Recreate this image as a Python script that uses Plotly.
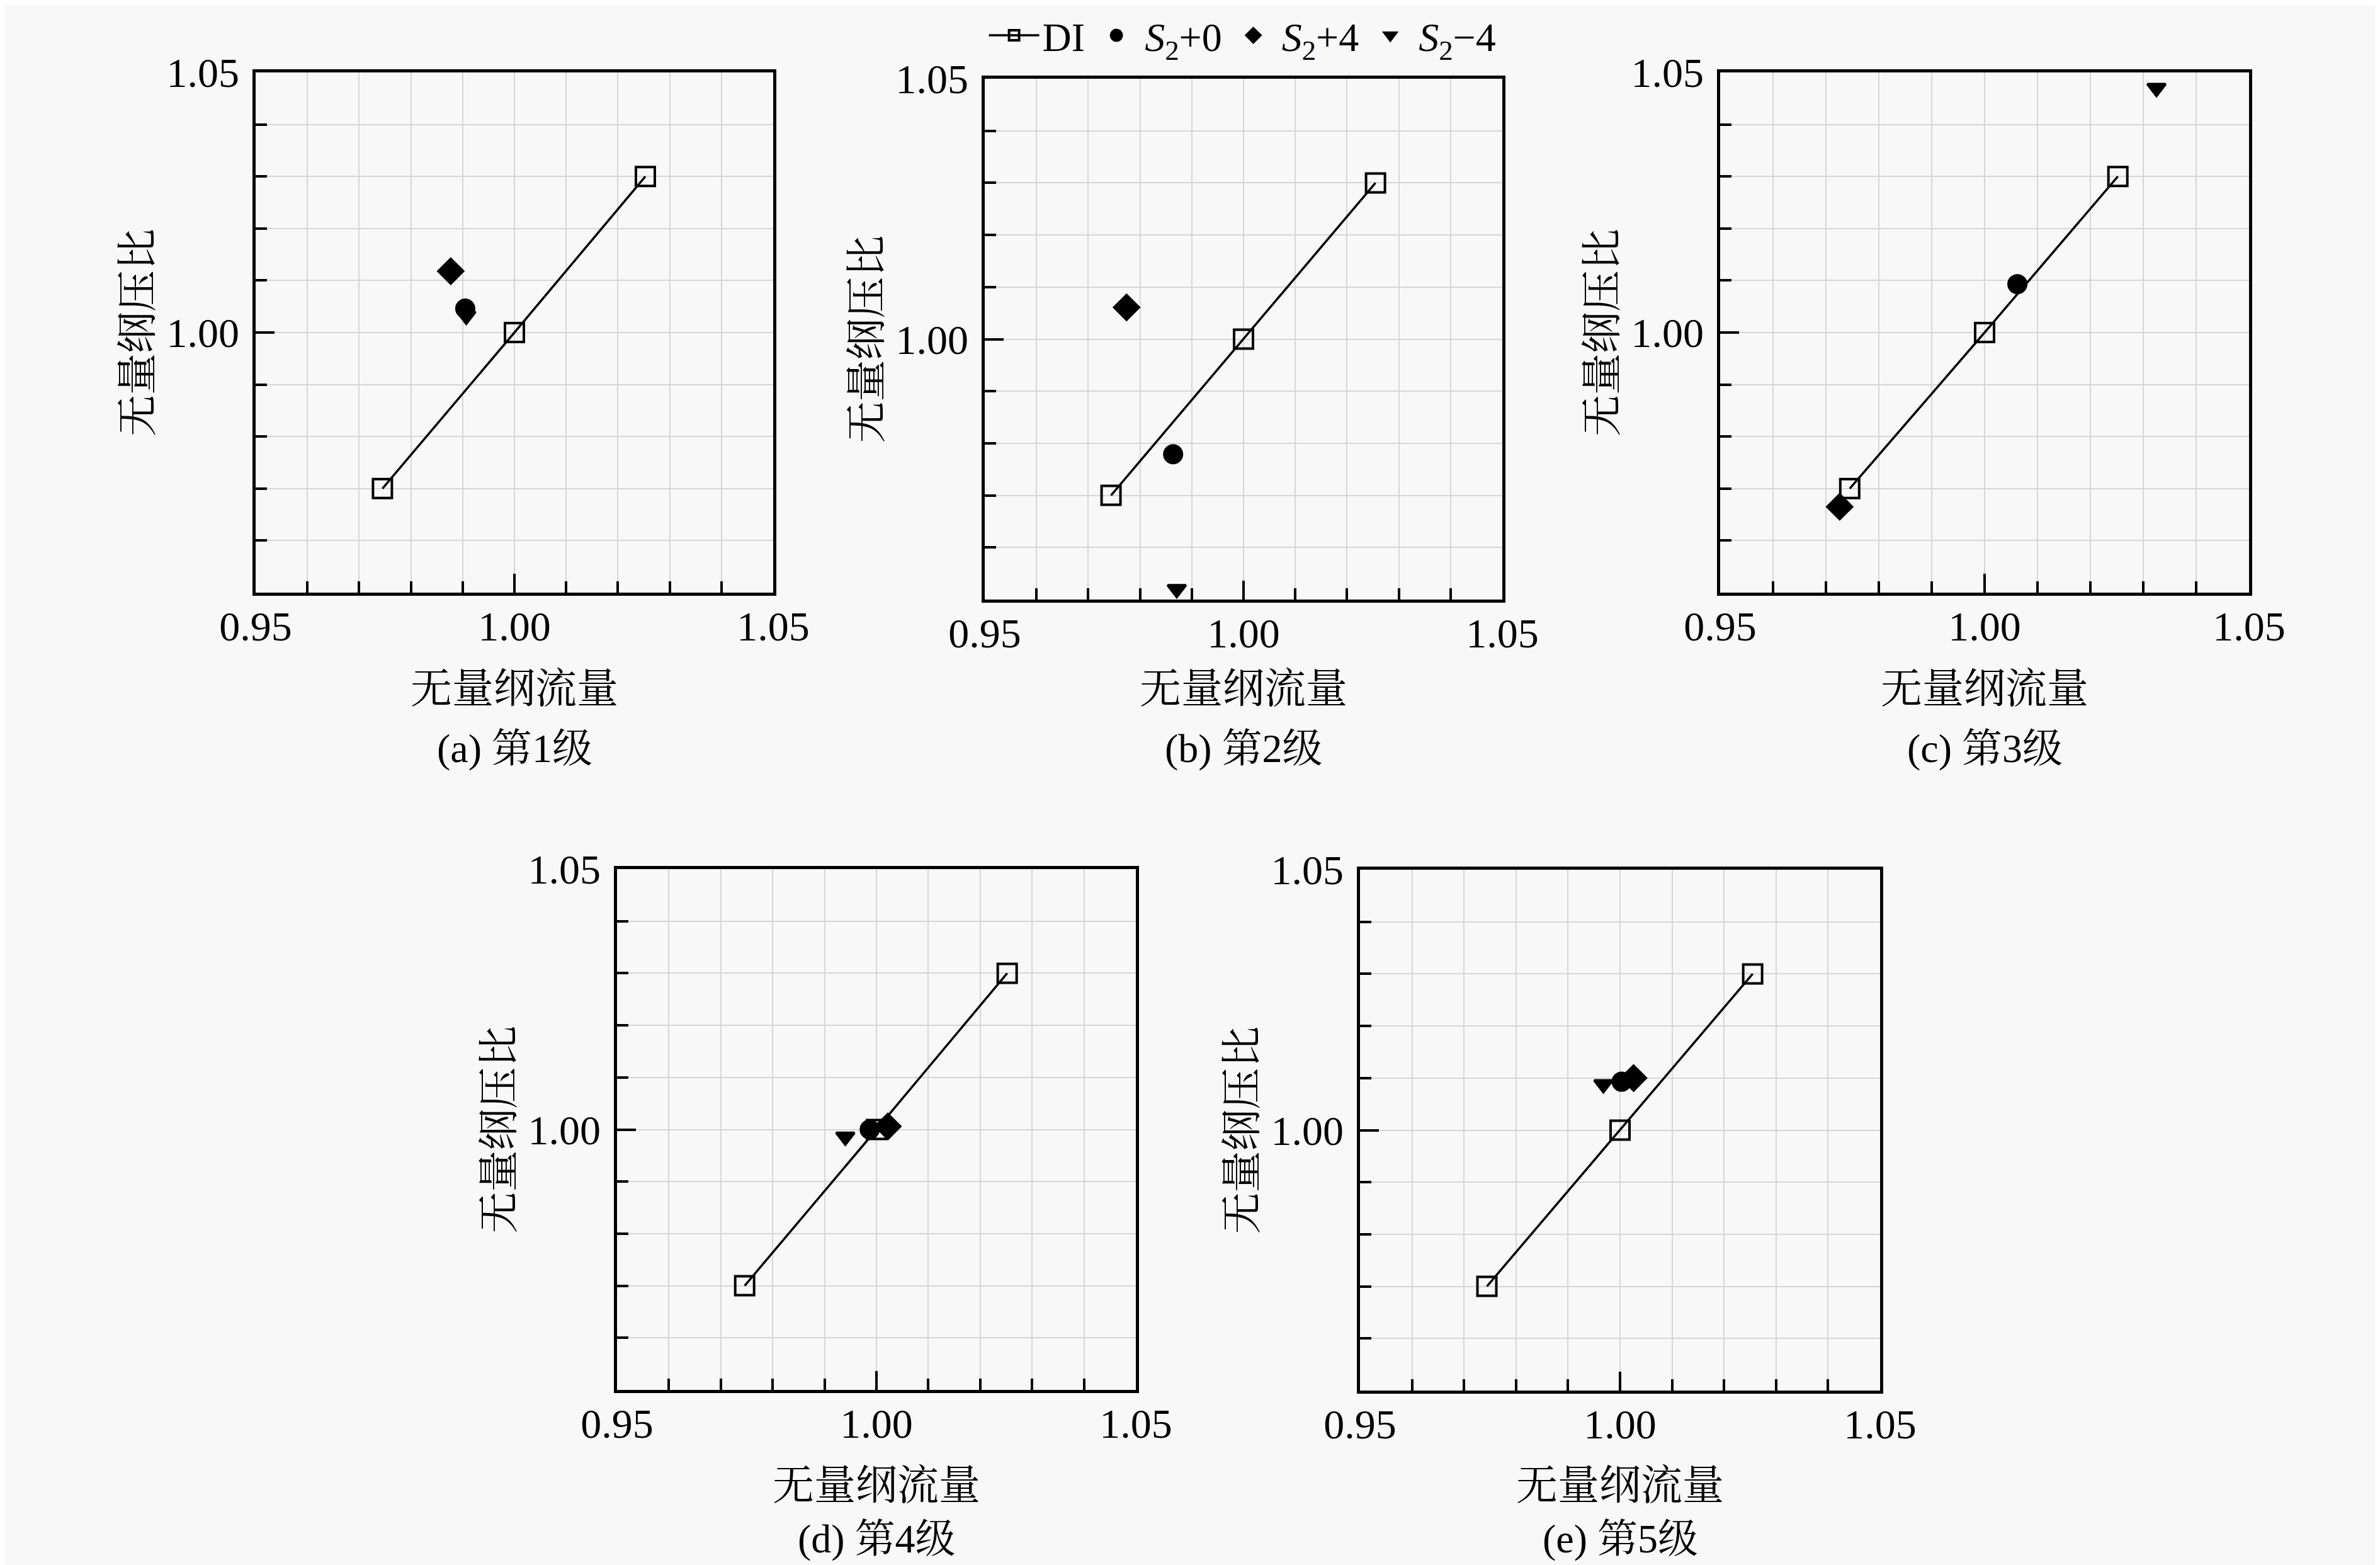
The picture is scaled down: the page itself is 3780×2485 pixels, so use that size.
import plotly.graph_objects as go

# ---------------- data ----------------
CAPTIONS = ["(a) 第1级", "(b) 第2级", "(c) 第3级", "(d) 第4级", "(e) 第5级"]
X_TITLE = "无量纲流量"
Y_TITLE = "无量纲压比"
TICK_VALS_X = [0.95, 1.00, 1.05]
TICK_TEXT_X = ["0.95", "1.00", "1.05"]
TICK_VALS_Y = [1.00, 1.05]
TICK_TEXT_Y = ["1.00", "1.05"]

SERIES_NAMES = ["DI", "<i>S</i><sub>2</sub>+0", "<i>S</i><sub>2</sub>+4", "<i>S</i><sub>2</sub>−4"]

DI_FLOW = [
    [0.9745, 1.000, 1.0253],
    [0.9744, 1.000, 1.0255],
    [0.9745, 1.000, 1.0252],
    [0.9746, 1.000, 1.0252],
    [0.9744, 1.000, 1.0255],
]
DI_PR = [
    [0.970, 1.000, 1.030],
    [0.970, 1.000, 1.030],
    [0.970, 1.000, 1.030],
    [0.970, 1.000, 1.030],
    [0.970, 1.000, 1.030],
]
S0_FLOW = [0.9905, 0.9864, 1.0062, 0.9987, 1.0003]
S0_PR = [1.0046, 0.9779, 1.0093, 1.0000, 1.0093]
SP4_FLOW = [0.9877, 0.9774, 0.9726, 1.0022, 1.0026]
SP4_PR = [1.0118, 1.0061, 0.9665, 1.0006, 1.0100]
SM4_FLOW = [0.9907, 0.9871, 1.0325, 0.9940, 0.9968]
SM4_PR = [1.0032, 0.9520, 1.0470, 0.9986, 1.0088]

# ---------------- layout (pixel boxes of each panel) ----------------
W, H = 3780, 2485
BOX_L = [398, 1556, 2724, 972, 2152]
BOX_R = [1220, 2378, 3564, 1796, 2978]
BOX_T = [107, 117, 107, 1372, 1373]
BOX_B = [933, 944, 933, 2199, 2200]
ROW = [0, 0, 0, 1, 1]
XTITLE_Y = [1085, 2350]
CAPTION_Y = [1181, 2435]

FONT = "Liberation Serif, 'Noto Serif CJK SC', 'Noto Sans CJK SC', serif"
BG = "#f8f8f8"
GRID = "#d6d6d6"

fig = go.Figure()

for i in range(5):
    xa = "x" if i == 0 else f"x{i+1}"
    ya = "y" if i == 0 else f"y{i+1}"
    first = i == 0
    fig.add_trace(go.Scatter(
        x=DI_FLOW[i], y=DI_PR[i], xaxis=xa, yaxis=ya, name=SERIES_NAMES[0],
        legendgroup="di", showlegend=first, mode="lines+markers",
        line=dict(color="black", width=3.5),
        marker=dict(symbol="square-open", size=30, color="black", line=dict(width=4, color="black")),
        cliponaxis=False,
    ))
    fig.add_trace(go.Scatter(
        x=[SM4_FLOW[i]], y=[SM4_PR[i]], xaxis=xa, yaxis=ya, name=SERIES_NAMES[3],
        legendgroup="sm4", showlegend=False, mode="markers",
        marker=dict(symbol="triangle-down", size=25, color="black", line=dict(width=4, color="black")),
        cliponaxis=False,
    ))
    fig.add_trace(go.Scatter(
        x=[S0_FLOW[i]], y=[S0_PR[i]], xaxis=xa, yaxis=ya, name=SERIES_NAMES[1],
        legendgroup="s0", showlegend=first, mode="markers",
        marker=dict(symbol="circle", size=27, color="black", line=dict(width=5, color="black")),
        cliponaxis=False,
    ))
    fig.add_trace(go.Scatter(
        x=[SP4_FLOW[i]], y=[SP4_PR[i]], xaxis=xa, yaxis=ya, name=SERIES_NAMES[2],
        legendgroup="sp4", showlegend=first, mode="markers",
        marker=dict(symbol="diamond", size=29, color="black", line=dict(width=5, color="black")),
        cliponaxis=False,
    ))
    if first:
        fig.add_trace(go.Scatter(
            x=[None], y=[None], xaxis=xa, yaxis=ya, name=SERIES_NAMES[3],
            legendgroup="sm4", showlegend=True, mode="markers",
            marker=dict(symbol="triangle-down", size=25, color="black", line=dict(width=4, color="black")),
        ))

layout = dict(
    width=W, height=H,
    paper_bgcolor=BG, plot_bgcolor=BG,
    margin=dict(l=0, r=0, t=0, b=0, pad=0, autoexpand=False),
    font=dict(family=FONT, size=64, color="black"),
    showlegend=True,
    legend=dict(orientation="h", x=0.52, xanchor="center", y=1.0, yanchor="top",
                font=dict(family=FONT, size=64), bgcolor="rgba(0,0,0,0)",
                itemwidth=80, traceorder="normal", tracegroupgap=0),
)

annotations = []
for i in range(5):
    xd = [BOX_L[i] / W, BOX_R[i] / W]
    yd = [1 - BOX_B[i] / H, 1 - BOX_T[i] / H]
    xk = "xaxis" if i == 0 else f"xaxis{i+1}"
    yk = "yaxis" if i == 0 else f"yaxis{i+1}"
    ya = "y" if i == 0 else f"y{i+1}"
    xa = "x" if i == 0 else f"x{i+1}"
    common = dict(
        showline=True, linecolor="black", linewidth=4.5, mirror=True,
        ticks="inside", ticklen=30, tickwidth=4, tickcolor="black",
        showgrid=True, gridcolor=GRID, gridwidth=2, zeroline=False,
        tickfont=dict(family=FONT, size=66, color="black"),
        minor=dict(tickmode="linear", tick0=0.95, dtick=0.01, ticks="inside",
                   ticklen=18, tickwidth=4, tickcolor="black",
                   showgrid=True, gridcolor=GRID, gridwidth=2),
        fixedrange=True, automargin=False,
    )
    layout[xk] = dict(common, domain=xd, anchor=ya, range=[0.95, 1.05],
                      tickmode="array", tickvals=TICK_VALS_X, ticktext=TICK_TEXT_X,
                      ticklabelstandoff=-8)
    layout[yk] = dict(common, domain=yd, anchor=xa, range=[0.95, 1.05],
                      tickmode="array", tickvals=TICK_VALS_Y, ticktext=TICK_TEXT_Y,
                      ticklabelstandoff=8)
    cx = (BOX_L[i] + BOX_R[i]) / 2 / W
    cy = 1 - (BOX_T[i] + BOX_B[i]) / 2 / H
    annotations.append(dict(text=Y_TITLE, xref="paper", yref="paper",
                            x=(BOX_L[i] - 188) / W, y=cy, textangle=-90,
                            xanchor="center", yanchor="middle", showarrow=False,
                            font=dict(family=FONT, size=66)))
    annotations.append(dict(text=X_TITLE, xref="paper", yref="paper",
                            x=cx, y=1 - XTITLE_Y[ROW[i]] / H,
                            xanchor="center", yanchor="middle", showarrow=False,
                            font=dict(family=FONT, size=66)))
    annotations.append(dict(text=CAPTIONS[i], xref="paper", yref="paper",
                            x=cx, y=1 - CAPTION_Y[ROW[i]] / H,
                            xanchor="center", yanchor="middle", showarrow=False,
                            font=dict(family=FONT, size=64)))

layout["annotations"] = annotations
fig.update_layout(**layout)
fig.write_html("out.html")
